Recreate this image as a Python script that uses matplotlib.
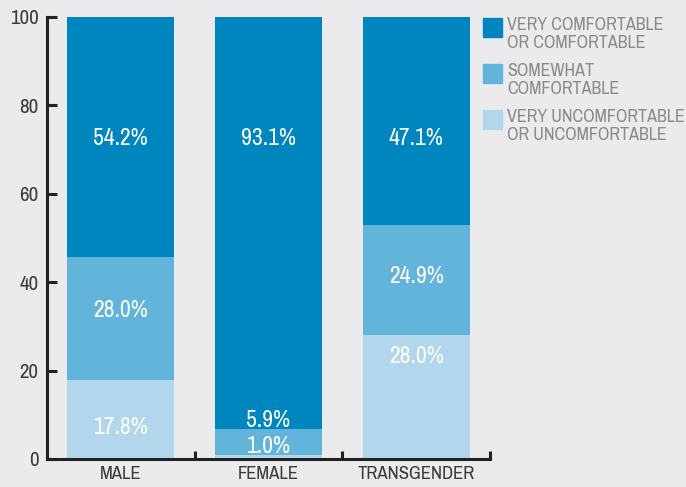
import matplotlib
matplotlib.use("Agg")
import matplotlib.pyplot as plt
from matplotlib.patches import Rectangle

groups = ["MALE", "FEMALE", "TRANSGENDER"]
uncomfortable = [17.8, 1.0, 28.0]
somewhat = [28.0, 5.9, 24.9]
comfortable = [54.2, 93.1, 47.1]

# heights where the percentage labels sit, per segment
label_y_uncomf = [7.2, 2.9, 23.3]
label_y_somewhat = [33.5, 8.8, 41.4]
label_y_comf = [72.6, 72.6, 72.6]

legend_labels = ["VERY COMFORTABLE\nOR COMFORTABLE",
                 "SOMEWHAT\nCOMFORTABLE",
                 "VERY UNCOMFORTABLE\nOR UNCOMFORTABLE"]

bg = "#ebebed"
c_comf = "#0086bf"
c_some = "#63b4da"
c_unc = "#b2d7ec"

plt.rcParams['font.family'] = ['Archivo Narrow', 'DejaVu Sans']
plt.rcParams['font.stretch'] = 'condensed'

W, H = 686, 487


def main():
    fig = plt.figure(figsize=(W / 100, H / 100), dpi=100, facecolor=bg)
    ax = fig.add_axes([47 / W, 28 / H, 443 / W, 442 / H])
    ax.set_facecolor(bg)

    x = list(range(len(groups)))
    w = 0.725
    bottom2 = [a + b for a, b in zip(uncomfortable, somewhat)]
    ax.bar(x, uncomfortable, w, color=c_unc, zorder=2)
    ax.bar(x, somewhat, w, bottom=uncomfortable, color=c_some, zorder=2)
    ax.bar(x, comfortable, w, bottom=bottom2, color=c_comf, zorder=2)

    for i in x:
        for val, y in ((uncomfortable[i], label_y_uncomf[i]),
                       (somewhat[i], label_y_somewhat[i]),
                       (comfortable[i], label_y_comf[i])):
            ax.text(i, y, "{:.1f}%".format(val), ha="center", va="center",
                    color="white", fontsize=17, zorder=3)

    ax.set_xlim(-0.5, 2.5)
    ax.set_ylim(0, 100)
    ax.set_yticks([0, 20, 40, 60, 80, 100])
    ax.set_xticks(x)
    ax.set_xticklabels(groups)
    ax.set_xticks([0.5, 1.5, 2.5], minor=True)

    for s in ("top", "right"):
        ax.spines[s].set_visible(False)
    for s in ("left", "bottom"):
        ax.spines[s].set_linewidth(2.2)
        ax.spines[s].set_color("#222222")
        ax.spines[s].set_capstyle("projecting")

    ax.tick_params(axis="y", direction="in", length=7, width=2.2, color="#222222",
                   labelsize=15, labelcolor="#3a3a3a", pad=6)
    ax.tick_params(axis="x", which="major", length=0, labelsize=13.5,
                   labelcolor="#3a3a3a", pad=5)
    ax.tick_params(axis="x", which="minor", direction="in", length=6, width=2.2,
                   color="#222222")

    # legend drawn as swatches + two-line labels at the right
    for k, (col, lab) in enumerate(zip([c_comf, c_some, c_unc], legend_labels)):
        top = 18 + 46 * k
        fig.add_artist(Rectangle((483 / W, 1 - (top + 19) / H), 19 / W, 19 / H,
                                 transform=fig.transFigure, color=col))
        fig.text(507 / W, 1 - (top - 1) / H, lab, ha="left", va="top",
                 color="#8a8a8a", fontsize=13, linespacing=1.12)

    fig.savefig("out.png", dpi=100, facecolor=bg)


if __name__ == '__main__':
    main()
